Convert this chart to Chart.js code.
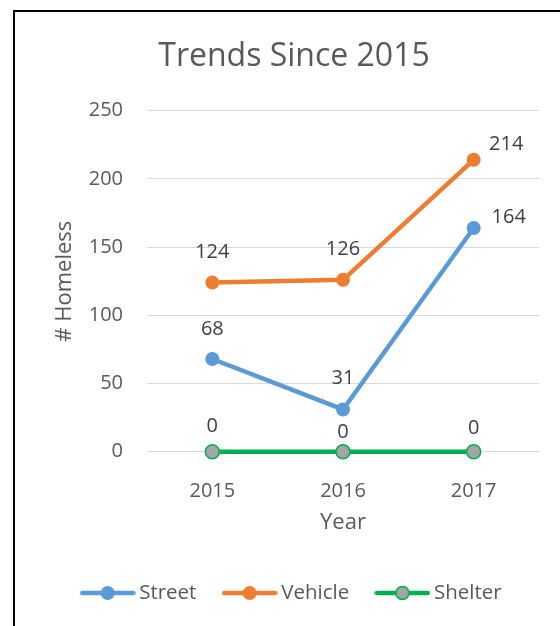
<!DOCTYPE html>
<html><head><meta charset="utf-8">
<script src="https://cdn.jsdelivr.net/npm/chart.js@4.4.1/dist/chart.umd.min.js"></script>
<style>
html,body{margin:0;padding:0;background:#fff;overflow:hidden;width:560px;height:626px;}
#frame{position:absolute;left:13px;top:10px;width:1000px;height:1000px;border:2px solid #000;box-sizing:border-box;}
#c{position:absolute;left:0;top:0;}
</style></head><body>
<div id="frame"></div>
<canvas id="c" width="560" height="626"></canvas>
<script>
// ---- data ----
const years = ['2015', '2016', '2017'];
const streetValues = [68, 31, 164];
const vehicleValues = [124, 126, 214];
const shelterValues = [0, 0, 0];
const yTickValues = [0, 50, 100, 150, 200, 250];
const seriesNames = ['Street', 'Vehicle', 'Shelter'];
const chartTitle = 'Trends Since 2015';
const xTitle = 'Year';
const yTitle = '# Homeless';

// ---- styles ----
const FONT = "'Open Sans', 'Noto Sans', sans-serif";
const TEXT = '#595959';
const LABEL = '#404040';
const seriesColors = ['#5B9BD5', '#ED7D31', '#00B050'];
const pointFills = ['#5B9BD5', '#ED7D31', '#A5A5A5'];
const pointBorders = ['#5B9BD5', '#ED7D31', '#00B050'];
// label offsets (dx, dy) relative to each point, per series
const labelOffsets = [
  [[0, -31], [0, -32.5], [35, -12.5]],
  [[0, -32], [0, -32], [32.5, -17.3]],
  [[0, -26.5], [0, -20.5], [0, -24.5]]
];

Chart.defaults.font.family = FONT;
Chart.defaults.color = TEXT;

function legendImage(i) {
  const cv = document.createElement('canvas');
  cv.width = 56; cv.height = 18;
  const g = cv.getContext('2d');
  g.strokeStyle = seriesColors[i];
  g.lineWidth = 4.5;
  g.lineCap = 'round';
  g.beginPath(); g.moveTo(2.5, 9); g.lineTo(53.5, 9); g.stroke();
  g.beginPath(); g.arc(28, 9, 7, 0, Math.PI * 2);
  g.fillStyle = pointFills[i]; g.fill();
  if (i === 2) { g.lineWidth = 1.5; g.strokeStyle = pointBorders[i]; g.beginPath(); g.arc(28, 9, 6.5, 0, Math.PI*2); g.stroke(); }
  return cv;
}
const legendImages = [0, 1, 2].map(legendImage);

const valueLabels = {
  id: 'valueLabels',
  afterDatasetsDraw(chart) {
    const ctx = chart.ctx;
    ctx.save();
    ctx.font = "20px " + FONT;
    ctx.fillStyle = LABEL;
    ctx.textAlign = 'center';
    ctx.textBaseline = 'alphabetic';
    chart.data.datasets.forEach((ds, i) => {
      const meta = chart.getDatasetMeta(i);
      meta.data.forEach((pt, j) => {
        const off = labelOffsets[i][j];
        ctx.fillText(String(ds.data[j]), pt.x + off[0], pt.y + off[1] + 20 * 0.357);
      });
    });
    ctx.restore();
  }
};

const allValues = [streetValues, vehicleValues, shelterValues];
const datasets = seriesNames.map((name, i) => ({
  label: name,
  data: allValues[i],
  borderColor: seriesColors[i],
  backgroundColor: seriesColors[i],
  borderWidth: 4.5,
  pointRadius: 7,
  pointHoverRadius: 7,
  pointBackgroundColor: pointFills[i],
  pointBorderColor: pointBorders[i],
  pointBorderWidth: i === 2 ? 1.5 : 0,
  tension: 0,
  clip: false
}));

new Chart(document.getElementById('c'), {
  type: 'line',
  data: { labels: years, datasets: datasets },
  options: {
    responsive: false,
    animation: false,
    devicePixelRatio: 1,
    layout: { padding: { left: 49, right: 21, top: 0, bottom: 12.75 } },
    plugins: {
      tooltip: { enabled: false },
      title: {
        display: true,
        text: chartTitle,
        color: TEXT,
        font: { size: 32, weight: 'normal', family: FONT },
        padding: { top: 37.5, bottom: 34.8 }
      },
      legend: {
        position: 'bottom',
        labels: {
          usePointStyle: true,
          pointStyleWidth: 42.5,
          padding: 32,
          color: TEXT,
          font: { size: 20.5, family: FONT },
          generateLabels(chart) {
            return chart.data.datasets.map((ds, i) => ({
              text: ds.label,
              datasetIndex: i,
              pointStyle: legendImages[i],
              fillStyle: 'transparent',
              strokeStyle: 'transparent',
              lineWidth: 0,
              hidden: false,
              fontColor: TEXT
            }));
          }
        }
      }
    },
    scales: {
      x: {
        type: 'category',
        offset: true,
        grid: { display: false },
        border: { display: false },
        ticks: { color: TEXT, font: { size: 20 }, padding: 20 },
        title: { display: true, text: xTitle, color: TEXT, font: { size: 22 }, padding: { top: 0, bottom: 15 } },
        afterFit(s) { s.height = 99; }
      },
      y: {
        min: 0,
        max: 250,
        grid: { color: '#D9D9D9', lineWidth: 1, drawTicks: false },
        border: { display: false },
        ticks: { color: TEXT, font: { size: 20 }, padding: 24, stepSize: 50 },
        afterBuildTicks(s) { s.ticks = yTickValues.map(v => ({ value: v })); },
        title: { display: true, text: yTitle, color: TEXT, font: { size: 22 }, padding: { top: 3, bottom: 0 } },
        afterFit(s) { s.width = 98; }
      }
    }
  },
  plugins: [valueLabels]
});
</script>
</body></html>
